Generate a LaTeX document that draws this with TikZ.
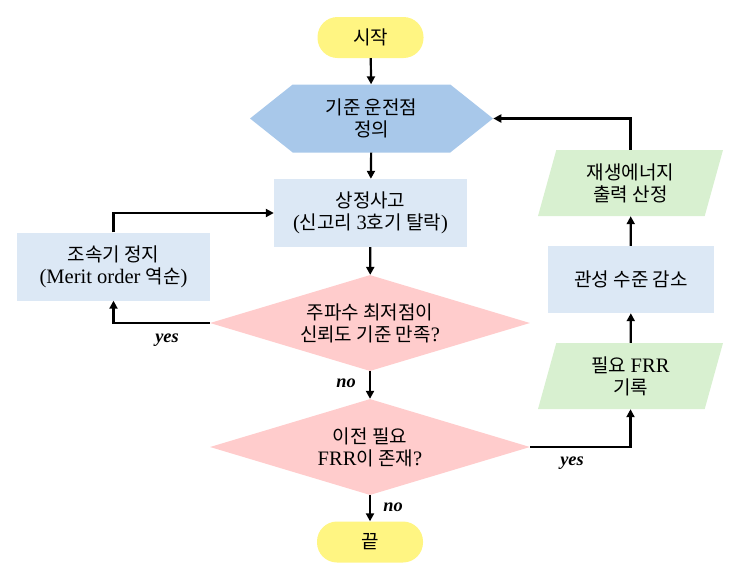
\documentclass[tikz,border=0pt]{standalone}
\usepackage{fontspec}
\setmainfont[Scale=1.08]{Liberation Serif}
\newfontfamily\kr{Noto Sans CJK KR}
\usepackage{xcolor}
\usetikzlibrary{shapes.geometric, shapes.symbols, arrows.meta}

\definecolor{termfill}{HTML}{FFF582}
\definecolor{prepfill}{HTML}{A8C8EA}
\definecolor{procfill}{HTML}{DCE8F5}
\definecolor{decfill}{HTML}{FFCCCC}
\definecolor{iofill}{HTML}{D8F0D0}

\begin{document}
\begin{tikzpicture}[x=1pt, y=-1pt,
    every node/.style={align=center, inner sep=0pt, font=\kr\fontsize{19}{22}\selectfont},
    terminal/.style={rectangle, rounded corners=20pt, fill=termfill, minimum width=106pt, minimum height=41pt},
    prep/.style={signal, signal to=west and east, signal pointer angle=77, fill=prepfill, minimum width=243pt, minimum height=68pt},
    process/.style={rectangle, fill=procfill, minimum width=193pt, minimum height=68pt},
    decision/.style={diamond, aspect=3.3, fill=decfill, minimum width=320pt, minimum height=96pt},
    io/.style={trapezium, trapezium left angle=65, trapezium right angle=115, trapezium stretches body, fill=iofill, minimum width=185pt, minimum height=66pt},
    flow/.style={->, line width=2.2pt, >={Triangle[length=8pt, width=8pt]}},
    lab/.style={font=\rmfamily\bfseries\itshape\fontsize{17}{20}\selectfont}]
    \useasboundingbox (0,0) rectangle (741,579);

    % Start and end
    \node[terminal] (start) at (370.5,37.5) {시작};
    \node[terminal] (stop) at (370,542) {끝};

    % Reference operating point
    \node[prep] (base) at (371.5,118.5) {기준 운전점\\정의};

    % Contingency
    \node[process] (fault) at (370.5,213) {상정사고\\{\rmfamily(}신고리 {\rmfamily 3}호기 탈락{\rmfamily)}};

    % Governor stop
    \node[process] (gov) at (113.5,266.5) {조속기 정지\\{\rmfamily(Merit order }역순{\rmfamily)}};

    % Decisions
    \node[decision] (check) at (370,323) {주파수 최저점이\\신뢰도 기준 만족{\rmfamily ?}};
    \node[decision] (prev) at (370,447) {이전 필요\\{\rmfamily FRR}이 존재{\rmfamily ?}};

    % Right column
    \node[io] (frr) at (630.5,376) {필요 {\rmfamily FRR}\\기록};
    \node[process, minimum width=166pt, minimum height=67pt] (inertia) at (631,279.5) {관성 수준 감소};
    \node[io] (renew) at (630.5,183) {재생에너지\\출력 산정};

    % Arrows
    \draw[flow] (start) -- (base);
    \draw[flow] (base) -- (fault);
    \draw[flow] (fault) -- (check);
    \draw[flow] (check.west) -| (gov.south);
    \draw[flow] (gov.north) |- (fault.west);
    \draw[flow] (check) -- (prev);
    \draw[flow] (prev) -- (stop);
    \draw[flow] (prev.east) -| (frr.south);
    \draw[flow] (frr) -- (inertia);
    \draw[flow] (inertia) -- (renew);
    \draw[flow] (renew.north) |- (base.east);

    % Branch labels
    \node[lab] (yes1) at (167,340) {yes};
    \node[lab] (no1) at (346,383) {no};
    \node[lab] (no2) at (393,507) {no};
    \node[lab] (yes2) at (572,463) {yes};
  \end{tikzpicture}
\end{document}
